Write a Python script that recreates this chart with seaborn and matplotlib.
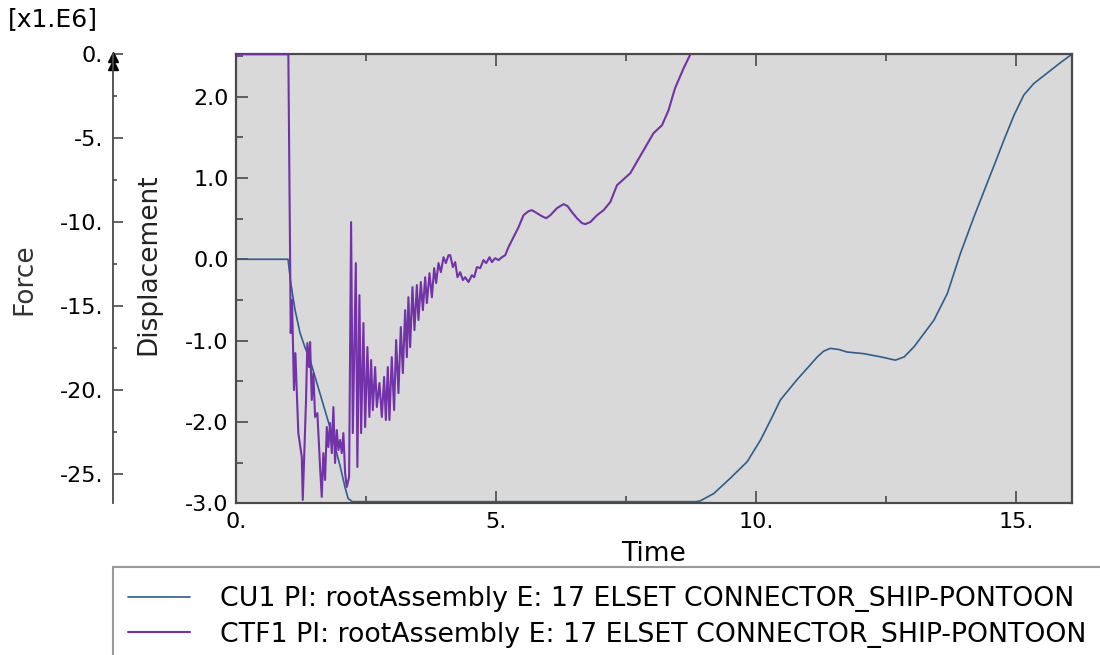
import numpy as np
import pandas as pd
import seaborn as sns
import matplotlib
matplotlib.use("Agg")
import matplotlib.pyplot as plt
from matplotlib.patches import Rectangle
from matplotlib.ticker import MultipleLocator, FuncFormatter

# CU1: connector displacement history
cu1_time = [0.0, 1.006, 1.058, 1.14, 1.237, 1.33, 1.43, 1.62, 1.81, 2.01, 2.10, 2.16, 2.24,
            8.85, 8.93, 9.19, 9.51, 9.83, 10.09, 10.28, 10.47, 10.79, 11.0, 11.18, 11.30,
            11.43, 11.60, 11.75, 12.07, 12.40, 12.68, 12.85, 13.04, 13.42, 13.68, 13.93,
            14.19, 14.38, 14.57, 14.77, 14.96, 15.15, 15.34, 15.60, 15.86, 16.05]
cu1_disp = [0.0, 0.0, -0.29, -0.62, -0.906, -1.08, -1.24, -1.65, -2.06, -2.55, -2.80, -2.94, -2.98,
            -2.98, -2.97, -2.88, -2.69, -2.49, -2.22, -1.98, -1.73, -1.48, -1.33, -1.20, -1.13,
            -1.095, -1.11, -1.14, -1.16, -1.20, -1.24, -1.20, -1.075, -0.75, -0.42, 0.07,
            0.52, 0.83, 1.14, 1.47, 1.77, 2.02, 2.16, 2.29, 2.42, 2.51]

# CTF1: connector force history (x1.E6)
ctf1_time = [0.0, 1.012, 1.058, 1.083, 1.12, 1.147, 1.204, 1.27, 1.289, 1.314,
             1.352, 1.377, 1.41, 1.43, 1.462, 1.493, 1.526, 1.57, 1.622, 1.654,
             1.685, 1.718, 1.751, 1.781, 1.814, 1.847, 1.878, 1.91, 1.943, 1.974,
             2.006, 2.039, 2.07, 2.103, 2.135, 2.18, 2.218, 2.251, 2.309, 2.339,
             2.378, 2.411, 2.455, 2.488, 2.532, 2.57, 2.603, 2.636, 2.68, 2.713,
             2.763, 2.809, 2.853, 2.886, 2.924, 2.955, 3.0, 3.045, 3.084, 3.128,
             3.174, 3.213, 3.257, 3.29, 3.32, 3.353, 3.398, 3.436, 3.482, 3.513,
             3.559, 3.598, 3.642, 3.675, 3.725, 3.771, 3.815, 3.853, 3.898, 3.944,
             3.994, 4.04, 4.09, 4.123, 4.175, 4.219, 4.263, 4.315, 4.367, 4.411,
             4.475, 4.54, 4.585, 4.636, 4.70, 4.763, 4.815, 4.879, 4.925, 4.988,
             5.052, 5.117, 5.181, 5.244, 5.34, 5.437, 5.533, 5.629, 5.695, 5.791,
             5.887, 5.97, 6.047, 6.176, 6.302, 6.379, 6.464, 6.56, 6.656, 6.72,
             6.816, 6.945, 7.072, 7.2, 7.33, 7.585, 7.84, 8.03, 8.195, 8.32,
             8.445, 8.61, 8.74, 9.0, 16.05]
ctf1_force = [0.0, 0.0, -16.6, -14.63, -19.99, -17.79, -22.55, -23.97, -26.53, -24.15,
              -20.58, -17.19, -18.62, -17.13, -20.58, -18.98, -21.59, -21.36, -24.57, -26.35,
              -23.74, -25.34, -22.19, -23.38, -21.95, -23.74, -21.0, -24.33, -22.37, -23.56,
              -22.96, -23.74, -22.55, -24.93, -25.76, -25.16, -9.99, -22.55, -12.43, -24.57,
              -14.34, -22.55, -16.0, -22.19, -17.43, -21.59, -18.20, -21.18, -18.62, -21.0,
              -19.57, -21.59, -19.21, -21.77, -18.62, -21.77, -18.03, -21.18, -17.01, -20.17,
              -16.24, -18.98, -15.23, -18.03, -14.46, -17.43, -13.86, -16.42, -13.74, -15.82,
              -13.56, -15.23, -13.27, -14.81, -13.03, -14.46, -12.73, -13.62, -12.43, -12.97,
              -12.08, -12.43, -11.96, -11.96, -12.67, -12.37, -13.27, -12.97, -13.44, -13.27,
              -13.56, -13.15, -13.27, -12.67, -12.73, -12.25, -12.43, -12.08, -12.37, -12.14,
              -12.25, -12.08, -11.96, -11.48, -10.89, -10.29, -9.58, -9.34, -9.28, -9.46,
              -9.64, -9.76, -9.58, -9.16, -8.92, -9.04, -9.40, -9.76, -10.05, -10.11,
              -9.99, -9.58, -9.28, -8.80, -7.79, -7.08, -5.71, -4.70, -4.22, -3.33,
              -2.02, -0.83, 0.0, 1.5, 5.0]

label_cu1 = "CU1 PI: rootAssembly E: 17 ELSET CONNECTOR_SHIP-PONTOON"
label_ctf1 = "CTF1 PI: rootAssembly E: 17 ELSET CONNECTOR_SHIP-PONTOON"

df_cu1 = pd.DataFrame({"Time": cu1_time, "Displacement": cu1_disp})
df_ctf1 = pd.DataFrame({"Time": ctf1_time, "Force": ctf1_force})

sns.set_theme(style="ticks")
plt.rcParams["font.family"] = ["DejaVu Sans"]
plt.rcParams["text.color"] = "black"

W, H = 1100, 655
fig = plt.figure(figsize=(W / 100, H / 100), dpi=100)

ax_l, ax_r, ax_t, ax_b = 235.7, 1071.7, 54.3, 503.3
ax = fig.add_axes([ax_l / W, 1 - ax_b / H, (ax_r - ax_l) / W, (ax_b - ax_t) / H])
ax.set_facecolor("#d9d9d9")

blue = "#2d5e8c"
purple = "#7232a8"
frame_col = "#4a4a4a"
tick_fs = 16
label_fs = 19

sns.lineplot(data=df_cu1, x="Time", y="Displacement", ax=ax, color=blue,
             linewidth=1.2, estimator=None, sort=False, label=label_cu1, legend=False)

ax.set_xlim(0, 16.07)
ax.set_ylim(-3.0, 2.52)
ax.xaxis.set_major_locator(MultipleLocator(5))
ax.xaxis.set_minor_locator(MultipleLocator(2.5))
ax.yaxis.set_major_locator(MultipleLocator(1.0))
ax.yaxis.set_minor_locator(MultipleLocator(0.5))
ax.xaxis.set_major_formatter(FuncFormatter(lambda v, p: f"{int(round(v))}."))
ax.yaxis.set_major_formatter(FuncFormatter(lambda v, p: f"{v:.1f}"))
ax.tick_params(which="both", direction="in", top=True, right=True,
               labelsize=tick_fs, colors=frame_col, labelcolor="black", width=1.2)
ax.tick_params(which="major", length=8.5)
ax.tick_params(which="minor", length=5)
ax.tick_params(axis="y", pad=5)
ax.tick_params(axis="x", pad=6)
for s in ax.spines.values():
    s.set_color(frame_col)
    s.set_linewidth(1.6)

ax.set_xlabel("Time", fontsize=label_fs, color="black")
ax.set_ylabel("Displacement", fontsize=label_fs, color="#222222")
ax.xaxis.set_label_coords(0.5, -0.084)
ax.yaxis.set_label_coords(-0.0894, 0.533)

# force on a second scale, drawn on an offset left spine
ax2 = ax.twinx()
sns.lineplot(data=df_ctf1, x="Time", y="Force", ax=ax2, color=purple,
             linewidth=1.5, estimator=None, sort=False, label=label_ctf1, legend=False)
ax2.set_ylim(-26.73, 0.0)
ax2.set_xlim(0, 16.07)
ax2.yaxis.set_ticks_position("left")
ax2.yaxis.set_label_position("left")
force_x = (112.7 - ax_l) / (ax_r - ax_l)
ax2.spines["left"].set_position(("axes", force_x))
ax2.spines["left"].set_visible(True)
ax2.spines["left"].set_color(frame_col)
ax2.spines["left"].set_linewidth(1.3)
for side in ("right", "top", "bottom"):
    ax2.spines[side].set_visible(False)
ax2.yaxis.set_major_locator(MultipleLocator(5))
ax2.yaxis.set_minor_locator(MultipleLocator(2.5))
ax2.yaxis.set_major_formatter(FuncFormatter(lambda v, p: f"{int(round(v))}."))
ax2.tick_params(axis="y", which="both", direction="in", left=True, right=False,
                labelleft=True, labelright=False, labelsize=tick_fs,
                colors=frame_col, labelcolor="black", width=1.2, pad=7)
ax2.tick_params(axis="y", which="major", length=7.5)
ax2.tick_params(axis="y", which="minor", length=3)
ax2.set_ylabel("Force", fontsize=label_fs, color="#333333")
ax2.yaxis.set_label_coords(-0.2377, 0.5)

# out-of-range marker at the top of the force scale
ax2.plot([force_x, force_x], [0.993, 0.977], transform=ax.transAxes, linestyle="none",
         marker="^", markersize=7, color="black", clip_on=False)

fig.text(8 / W, 1 - 19 / H, "[x1.E6]", fontsize=18, va="center", ha="left")

# legend panel below the plot
fig.patches.append(Rectangle((113 / W, -0.02), 1.0, 1 - 567 / H + 0.02,
                             transform=fig.transFigure, fill=False,
                             edgecolor="#9a9a9a", linewidth=1.5))
h1, l1 = ax.get_legend_handles_labels()
h2, l2 = ax2.get_legend_handles_labels()
fig.legend(h1 + h2, l1 + l2, loc="upper left", bbox_to_anchor=(128 / W, 1 - 586 / H),
           frameon=False, fontsize=19.3, handlelength=2.32, handletextpad=1.12,
           labelspacing=0.36, borderpad=0, borderaxespad=0, labelcolor="black")

fig.savefig("out.png", dpi=100, facecolor="white")
